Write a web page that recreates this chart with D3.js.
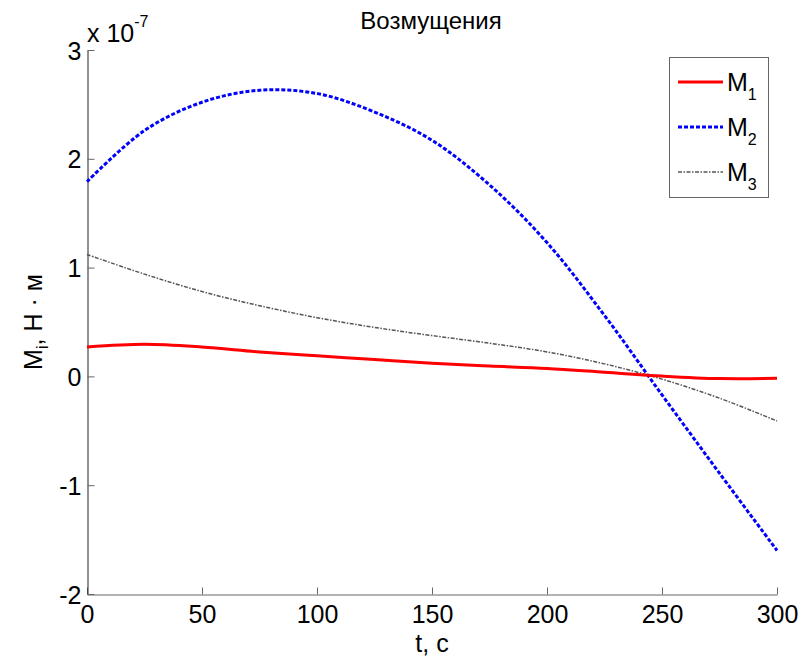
<!DOCTYPE html>
<head>
    <meta charset="utf-8">
    <script src="https://d3js.org/d3.v7.js"></script>
    <style>
        body { margin: 0; background: #fff; }
        text { font-family: "Liberation Sans", Arial, sans-serif; fill: #000; }
    </style>
</head>
<body>
    <svg id="chart" width="810" height="656"></svg>
    <script>
        // values in units of 1e-7 N*m
        const t = [0, 25, 50, 75, 100, 125, 150, 175, 200, 225, 250, 275, 300];
        const m1 = [0.27, 0.295, 0.27, 0.225, 0.19, 0.155, 0.12, 0.095, 0.072, 0.038, 0.003, -0.02, -0.018];
        const m2 = [1.79, 2.26, 2.52, 2.63, 2.60, 2.43, 2.17, 1.76, 1.23, 0.56, -0.17, -0.89, -1.60];
        const m3 = [1.12, 0.94, 0.78, 0.65, 0.54, 0.45, 0.375, 0.305, 0.225, 0.115, -0.025, -0.20, -0.41];
        const xTicks = [0, 50, 100, 150, 200, 250, 300];
        const yTicks = [-2, -1, 0, 1, 2, 3];

        const svg = d3.select("#chart");
        const margin = {left: 87, right: 33, top: 50, bottom: 62};
        const width = 810, height = 656;

        const x = d3.scaleLinear().domain([0, 300]).range([margin.left, width - margin.right]);
        const y = d3.scaleLinear().domain([-2, 3]).range([height - margin.bottom, margin.top]);

        // axes (ticks inward, MATLAB style)
        const xAxis = svg.append("g")
            .attr("transform", `translate(0,${y(-2) + 0.5})`)
            .call(d3.axisBottom(x).tickValues(xTicks).tickFormat(d => String(d))
                .tickSize(-7).tickPadding(12).tickSizeOuter(0));
        const yAxis = svg.append("g")
            .attr("transform", `translate(${x(0) + 0.5},0)`)
            .call(d3.axisLeft(y).tickValues(yTicks).tickFormat(d => String(d))
                .tickSize(-7).tickPadding(6).tickSizeOuter(0));

        xAxis.selectAll("path, line").attr("stroke", "#666");
        yAxis.selectAll("path").attr("stroke", "#222");
        yAxis.selectAll("line").attr("stroke", "#666");
        svg.selectAll(".tick text").style("font-size", "25px").attr("fill", "#000");
        xAxis.selectAll(".tick text").attr("dy", "0.65em");
        yAxis.selectAll(".tick text").attr("dy", "0.36em");

        // exponent label
        const exp = svg.append("text").attr("x", 87).attr("y", 42).style("font-size", "25px");
        exp.append("tspan").text("x 10");
        exp.append("tspan").attr("dy", -15).style("font-size", "16px").text("-7");

        // title and labels
        svg.append("text").attr("x", 431).attr("y", 29).attr("text-anchor", "middle")
            .style("font-size", "24px").text("Возмущения");
        svg.append("text").attr("x", 432).attr("y", 652).attr("text-anchor", "middle")
            .style("font-size", "25px").text("t, c");
        const yl = svg.append("text")
            .attr("transform", "translate(42,322) rotate(-90)")
            .attr("text-anchor", "middle").style("font-size", "25px");
        yl.append("tspan").text("M");
        yl.append("tspan").attr("dy", 6).style("font-size", "16px").text("i");
        yl.append("tspan").attr("dy", -6).text(", H · м");

        const series = [
            {name: "1", values: m1, color: "#ff0000", width: 3, dash: null},
            {name: "2", values: m2, color: "#0000ff", width: 3, dash: "4,2"},
            {name: "3", values: m3, color: "#555555", width: 1.5, dash: "4,1.5,1.5,1.5"}
        ];

        const line = d3.line()
            .x((d, i) => x(t[i]))
            .y(d => y(d))
            .curve(d3.curveCatmullRom);

        svg.append("g").selectAll("path")
            .data(series.slice().reverse())
            .join("path")
                .attr("fill", "none")
                .attr("stroke", d => d.color)
                .attr("stroke-width", d => d.width)
                .attr("stroke-dasharray", d => d.dash)
                .attr("d", d => line(d.values));

        // legend
        const lg = svg.append("g");
        lg.append("rect").attr("x", 669.5).attr("y", 57.5).attr("width", 99).attr("height", 140)
            .attr("fill", "#fff").attr("stroke", "#666").attr("stroke-width", 1);
        series.forEach((s, i) => {
            const yy = 82 + i * 45;
            lg.append("line").attr("x1", 678).attr("x2", 723).attr("y1", yy).attr("y2", yy)
                .attr("stroke", s.color).attr("stroke-width", s.width).attr("stroke-dasharray", s.dash);
            const tx = lg.append("text").attr("x", 727).attr("y", yy + 9).style("font-size", "25px");
            tx.append("tspan").text("M");
            tx.append("tspan").attr("dy", 9).style("font-size", "16px").text(s.name);
        });
    </script>
</body>
